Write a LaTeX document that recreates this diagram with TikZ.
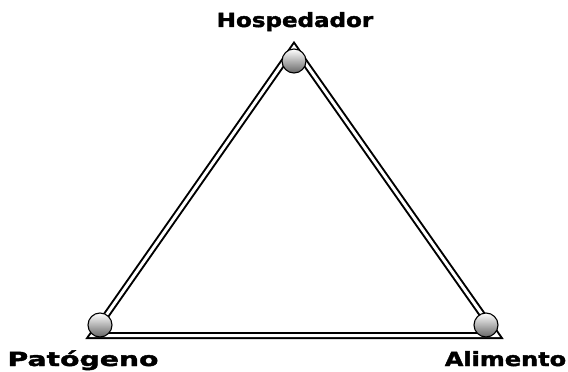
\documentclass[tikz,border=0pt]{standalone}
\usepackage{fontspec}
\newfontfamily\labelfont{DejaVu Sans}[FakeBold=2]
\begin{document}
\begin{tikzpicture}[x=1pt, y=-1pt,
  rim/.style={line width=2pt, double, double distance=3pt, line join=miter},
  knob/.style={circle, draw, line width=1.1pt, minimum size=24pt, inner sep=0pt,
    top color=white, bottom color=black!60},
  vertexlabel/.style={font={\labelfont\fontsize{19.5}{21}\selectfont\bfseries\addfontfeature{FakeStretch=#1}},
    inner sep=0pt, anchor=base}]
  \useasboundingbox (0,0) rectangle (568,372);
  % corners of the triangle
  \coordinate (cpat) at (92,335.5);
  \coordinate (calim) at (497,335.5);
  \coordinate (chost) at (294,47);
  % triangle
  \draw[rim] (cpat) -- (calim) -- (chost) -- cycle;
  % knobs
  \node[knob] (host) at (294,61) {};
  \node[knob] (pat) at (100,325) {};
  \node[knob] (alim) at (486,325) {};
  % labels
  \node[vertexlabel=1.18] (hostlabel) at (295,27) {Hospedador};
  \node[vertexlabel=1.45] (patlabel) at (83,366) {Patógeno};
  \node[vertexlabel=1.23] (alimlabel) at (505.5,366) {Alimento};
\end{tikzpicture}
\end{document}
